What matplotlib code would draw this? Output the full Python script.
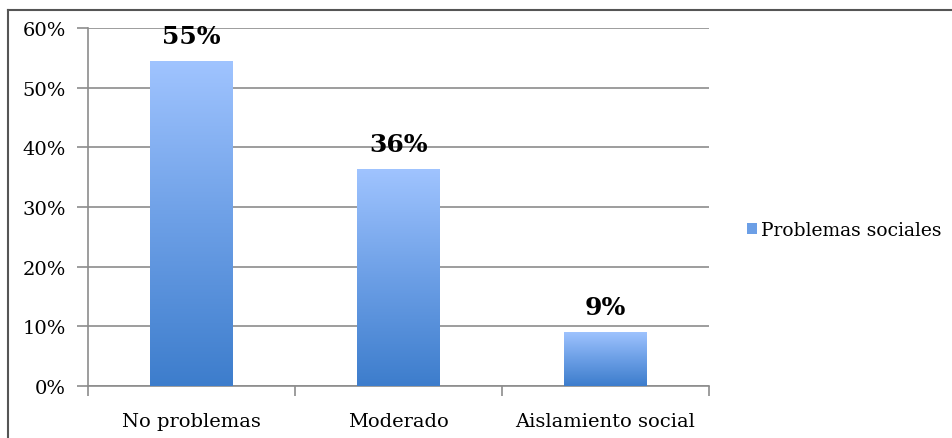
import numpy as np
import matplotlib.pyplot as plt
from matplotlib.colors import LinearSegmentedColormap
from matplotlib.lines import Line2D
from matplotlib.patches import Patch

categories = ["No problemas", "Moderado", "Aislamiento social"]
values = [54.5, 36.4, 9.1]
labels = ["55%", "36%", "9%"]
series_name = "Problemas sociales"

plt.rcParams['font.family'] = ['DejaVu Serif']

fig = plt.figure(figsize=(9.53, 4.39), dpi=100)
ax = fig.add_axes([88/953, 1-387/439, (709-88)/953, (387-29)/439])

grad = LinearSegmentedColormap.from_list("g", ["#3d7dcc", "#6c9fe6", "#a0c4ff"])
x = np.arange(len(categories))
bars = ax.bar(x, values, width=0.4, color="none", edgecolor="none", zorder=3)
g = np.linspace(0, 1, 256).reshape(-1, 1)
for b in bars:
    x0, y0 = b.get_x(), b.get_y()
    im = ax.imshow(g, cmap=grad, origin="lower", aspect="auto",
                   extent=[x0, x0 + b.get_width(), y0, y0 + b.get_height()], zorder=3)
    im.set_clip_path(b)

for xi, v, lab in zip(x, values, labels):
    ax.text(xi, v + 2.2, lab, ha="center", va="bottom", fontsize=18, fontweight="bold")

ax.set_xlim(-0.5, 2.5)
ax.set_ylim(0, 60)
ax.set_yticks(np.arange(0, 61, 10))
ax.set_yticklabels([f"{t}%" for t in range(0, 61, 10)], fontsize=14)
ax.yaxis.grid(True, color="#8c8c8c", linewidth=1.2, zorder=0)
ax.set_axisbelow(True)

ax.set_xticks([-0.5, 0.5, 1.5, 2.5])
ax.set_xticklabels([])
ax.set_xticks(x, minor=True)
ax.set_xticklabels(categories, minor=True, fontsize=14)
ax.tick_params(axis="x", which="minor", length=0, pad=19)
ax.tick_params(axis="x", which="major", length=7, color="#8c8c8c", width=1.2)
ax.tick_params(axis="y", length=8, color="#8c8c8c", width=1.2, pad=8)

for s in ["top", "right"]:
    ax.spines[s].set_visible(False)
for s in ["left", "bottom"]:
    ax.spines[s].set_color("#8c8c8c")
    ax.spines[s].set_linewidth(1.2)

# outer chart frame
fig.add_artist(Line2D([8/953, 952/953], [1-11/439, 1-11/439], color="#555555", lw=1.5))
fig.add_artist(Line2D([8/953, 8/953], [0, 1-11/439], color="#555555", lw=1.5))

leg = fig.legend(handles=[Patch(facecolor="#6c9fe6", label=series_name)],
                 loc="center left", bbox_to_anchor=(738/953, 1-231/439),
                 frameon=False, fontsize=13.5, handlelength=0.5, handleheight=0.5,
                 handletextpad=0.25, borderpad=0)

fig.savefig("out.png", dpi=100)
